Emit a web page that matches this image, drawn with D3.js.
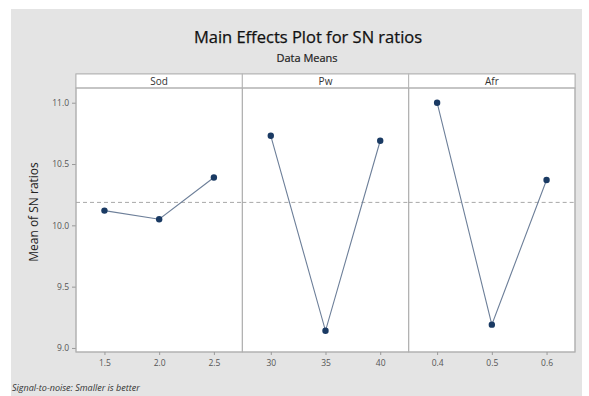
<!DOCTYPE html>
<html><head><meta charset="utf-8">
<script src="https://cdn.jsdelivr.net/npm/d3@7"></script>
<style>body{margin:0;background:#fff}svg{display:block;font-family:"Open Sans","Noto Sans",sans-serif}</style>
</head><body><svg id="c" width="589" height="396"></svg>
<script>
const factors = ["Sod", "Pw", "Afr"];
const levels = [["1.5", "2.0", "2.5"], ["30", "35", "40"], ["0.4", "0.5", "0.6"]];
const means = [[10.12, 10.05, 10.39], [10.73, 9.14, 10.69], [11.00, 9.19, 10.37]];
const yTicks = [9.0, 9.5, 10.0, 10.5, 11.0];
const grandMean = 10.187;

(function () {
const svg = d3.select("#c");
svg.append("rect").attr("x", 11).attr("y", 9).attr("width", 571).attr("height", 387).attr("fill", "#e4e4e4");

const pLeft = 76, pRight = 575, pTop = 88, pBottom = 352, headTop = 74;
const pw = (pRight - pLeft) / factors.length;
const y = d3.scaleLinear().domain([8.967, 11.12]).range([pBottom, pTop]);

svg.append("text").attr("x", 308).attr("y", 43).attr("text-anchor", "middle")
  .attr("font-size", 16.5).attr("fill", "#111").attr("stroke", "#111").attr("stroke-width", 0.25)
  .text("Main Effects Plot for SN ratios");
svg.append("text").attr("x", 307).attr("y", 62).attr("text-anchor", "middle")
  .attr("font-size", 11).attr("fill", "#222").attr("stroke", "#222").attr("stroke-width", 0.2)
  .text("Data Means");

svg.append("rect").attr("x", pLeft).attr("y", headTop).attr("width", pRight - pLeft).attr("height", pBottom - headTop)
  .attr("fill", "#fff").attr("stroke", "#b5b5b5").attr("stroke-width", 1);

const yAxis = d3.axisLeft(y).tickValues(yTicks).tickFormat(d3.format(".1f")).tickSize(4).tickPadding(3);
const ya = svg.append("g").attr("transform", `translate(${pLeft},0)`).call(yAxis);
ya.select(".domain").remove();
ya.selectAll("line").attr("stroke", "#999");
ya.selectAll("text").attr("font-size", 8.5).attr("fill", "#555").attr("font-family", "'Open Sans',sans-serif");

svg.append("text").attr("transform", "translate(38,212) rotate(-90)").attr("text-anchor", "middle")
  .attr("font-size", 12).attr("fill", "#222").text("Mean of SN ratios");

factors.forEach((f, i) => {
  const x0 = pLeft + i * pw;
  const g = svg.append("g");
  const x = d3.scalePoint().domain(levels[i]).range([x0, x0 + pw]).padding(0.52);
  g.append("rect").attr("x", x0).attr("y", headTop).attr("width", pw).attr("height", pTop - headTop)
    .attr("fill", "#fff").attr("stroke", "#b5b5b5");
  g.append("text").attr("x", x0 + pw / 2).attr("y", 84.5).attr("text-anchor", "middle")
    .attr("font-size", 10).attr("fill", "#333").text(f);
  g.append("rect").attr("x", x0).attr("y", pTop).attr("width", pw).attr("height", pBottom - pTop)
    .attr("fill", "none").attr("stroke", "#b0b0b0");
  const xa = g.append("g").attr("transform", `translate(0,${pBottom})`)
    .call(d3.axisBottom(x).tickSize(3).tickPadding(5));
  xa.select(".domain").remove();
  xa.selectAll("line").attr("stroke", "#999");
  xa.selectAll("text").attr("font-size", 8.5).attr("fill", "#555").attr("font-family", "'Open Sans',sans-serif");
  g.append("line").attr("x1", x0).attr("x2", x0 + pw).attr("y1", y(grandMean)).attr("y2", y(grandMean))
    .attr("stroke", "#a8a8a8").attr("stroke-dasharray", "4,3").attr("stroke-width", 1);
  const data = levels[i].map((l, j) => ({l, v: means[i][j]}));
  g.append("path").datum(data)
    .attr("d", d3.line().x(d => x(d.l)).y(d => y(d.v)))
    .attr("fill", "none").attr("stroke", "#6d7f99").attr("stroke-width", 1.1);
  g.selectAll("circle").data(data).join("circle")
    .attr("cx", d => x(d.l)).attr("cy", d => y(d.v)).attr("r", 3.2).attr("fill", "#1a3a63");
});

svg.append("text").attr("x", 12).attr("y", 391).attr("font-size", 9).attr("font-style", "italic")
  .attr("fill", "#333").text("Signal-to-noise: Smaller is better");
})();
</script></body></html>
